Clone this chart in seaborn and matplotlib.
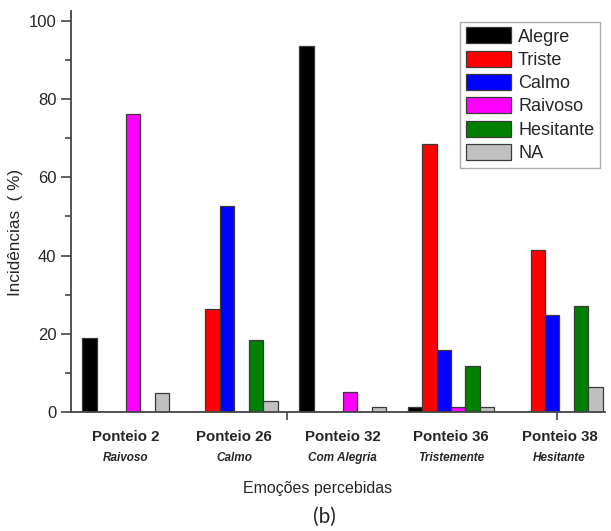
import pandas as pd
import seaborn as sns
import matplotlib.pyplot as plt
from matplotlib.ticker import MultipleLocator, FixedLocator

# Data
pieces = ['Ponteio 2', 'Ponteio 26', 'Ponteio 32', 'Ponteio 36', 'Ponteio 38']
intended = ['Raivoso', 'Calmo', 'Com Alegria', 'Tristemente', 'Hesitante']
emotions = ['Alegre', 'Triste', 'Calmo', 'Raivoso', 'Hesitante', 'NA']

alegre = [18.9, 0, 93.5, 1.4, 0]
triste = [0, 26.3, 0, 68.5, 41.5]
calmo = [0, 52.6, 0, 15.8, 24.7]
raivoso = [76.2, 0, 5.2, 1.2, 0]
hesitante = [0, 18.4, 0, 11.7, 27.2]
na = [4.8, 2.7, 1.3, 1.4, 6.3]

colors = ['#000000', '#ff0000', '#0000ff', '#ff00ff', '#008000', '#c0c0c0']

series = [alegre, triste, calmo, raivoso, hesitante, na]
rows = []
for emo, vals in zip(emotions, series):
    for p, v in zip(pieces, vals):
        rows.append({'piece': p, 'emotion': emo, 'value': v})
df = pd.DataFrame(rows)

sns.set_style('white')
plt.rcParams['font.family'] = ['Liberation Sans', 'DejaVu Sans']

fig, ax = plt.subplots(figsize=(6.11, 5.31), dpi=100)
fig.subplots_adjust(left=71/611, right=605/611, top=1-11/531, bottom=1-412/531)

sns.barplot(data=df, x='piece', y='value', hue='emotion', order=pieces,
            hue_order=emotions, palette=colors, width=0.8, errorbar=None,
            edgecolor='#3a3a3a', linewidth=0.9, saturation=1, ax=ax)

ax.set_xlim(-0.505, 4.42)
ax.set_ylim(0, 102.5)

# spines
sns.despine(ax=ax, top=True, right=True)
for s in ['left', 'bottom']:
    ax.spines[s].set_color('#444444')
    ax.spines[s].set_linewidth(1.3)

# y ticks
ax.yaxis.set_major_locator(MultipleLocator(20))
ax.yaxis.set_minor_locator(MultipleLocator(10))
ax.tick_params(axis='y', which='major', direction='out', length=7, width=1.2,
               color='#444444', labelsize=12, left=True)
ax.tick_params(axis='y', which='minor', direction='out', length=4, width=1.2,
               color='#444444', left=True)

# x ticks: bold piece names, stray minor marks like the original
ax.set_xticks(range(len(pieces)))
ax.set_xticklabels(pieces, fontsize=10.8, fontweight='bold')
ax.xaxis.set_minor_locator(FixedLocator([1.49, 3.98]))
ax.tick_params(axis='x', which='major', length=0, pad=13)
ax.tick_params(axis='x', which='minor', direction='out', length=6, width=1.2,
               color='#444444', bottom=True)

for i, name in enumerate(intended):
    ax.text(i, -0.115, name, transform=ax.get_xaxis_transform(), ha='center',
            va='center', fontsize=8.5, fontstyle='italic', fontweight='bold')

ax.set_xlabel('Emoções percebidas', fontsize=11.5)
ax.xaxis.set_label_coords(0.4625, -0.172)
ax.set_ylabel('Incidências  ( %)', fontsize=12.3)
ax.yaxis.set_label_coords(-0.09, 0.449)

leg = ax.legend(loc='upper right', bbox_to_anchor=(0.99, 0.973), fontsize=13,
                frameon=True, fancybox=False, edgecolor='#999999',
                handlelength=2.5, handleheight=1.0, labelspacing=0.28,
                handletextpad=0.4, borderpad=0.3, borderaxespad=0)
leg.get_frame().set_linewidth(1.0)

fig.text(324/611, 1-517/531, '(b)', ha='center', va='center', fontsize=15,
         family=['Lato', 'DejaVu Sans'])

fig.savefig('out.png', dpi=100)
